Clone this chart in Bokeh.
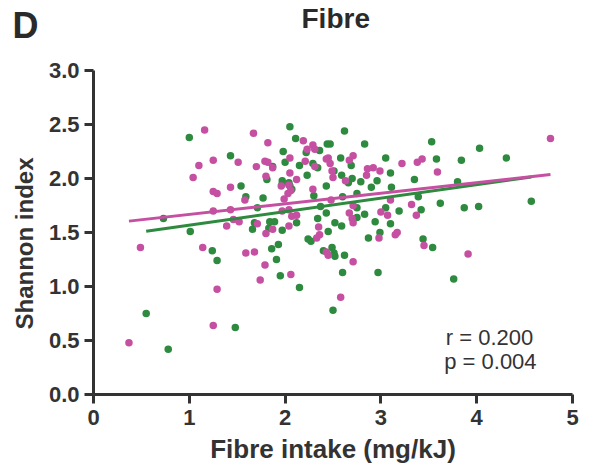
from bokeh.plotting import figure
from bokeh.models import Range1d, Label, FixedTicker, PrintfTickFormatter, Title
from bokeh.embed import file_html
from bokeh.resources import INLINE

# ---- data ----
green_x = [1.00, 2.05, 2.11, 1.98, 2.00, 1.43, 2.15, 1.87, 1.81, 1.97, 2.04, 1.54, 1.59, 1.77, 2.05,
           0.73, 1.01, 1.66, 1.68, 1.83, 1.84, 1.89, 1.97, 2.12, 1.71, 1.24, 1.29, 1.86, 1.93, 1.91,
           1.95, 2.15, 0.55, 0.78, 1.48, 2.50, 2.60, 2.97, 3.76, 2.40, 2.49, 2.51, 2.52, 2.62, 2.24,
           2.27, 2.45, 2.34, 2.43, 2.52, 2.59, 2.75, 2.75, 2.83, 2.94, 3.05, 3.19, 3.10, 2.99, 2.87,
           3.44, 3.54, 2.62, 2.83, 2.44, 2.47, 3.53, 4.03, 3.05, 3.58, 3.84, 4.31, 2.58, 2.36, 2.22,
           2.29, 2.34, 2.51, 2.69, 2.59, 2.23, 2.70, 2.79, 2.96, 3.10, 3.35, 3.80, 2.43, 2.66, 2.90,
           3.11, 2.30, 2.60, 2.75, 3.39, 3.62, 3.87, 4.02, 4.57, 3.42, 2.37, 2.07, 1.97]
green_y = [2.38, 2.48, 2.37, 2.25, 2.15, 2.21, 2.12, 2.11, 1.99, 1.98, 1.96, 1.93, 1.83, 1.82, 1.93,
           1.63, 1.51, 1.53, 1.59, 1.54, 1.60, 1.60, 1.52, 1.59, 1.73, 1.33, 1.24, 1.35, 1.39, 1.25,
           1.10, 0.99, 0.75, 0.42, 0.62, 0.78, 1.13, 1.13, 1.07, 1.33, 1.36, 1.31, 1.28, 1.29, 1.44,
           1.42, 1.51, 1.63, 1.68, 1.59, 1.56, 1.73, 1.64, 1.67, 1.60, 1.73, 1.70, 1.58, 1.50, 1.45,
           1.44, 1.36, 2.44, 2.32, 2.32, 2.32, 2.34, 2.28, 2.19, 2.18, 2.17, 2.19, 2.19, 2.26, 2.24,
           2.14, 2.10, 2.07, 2.12, 2.03, 2.03, 2.00, 1.97, 1.98, 2.05, 1.99, 1.97, 1.93, 1.96, 1.92,
           1.92, 1.84, 1.83, 1.86, 1.83, 1.77, 1.73, 1.74, 1.79, 1.71, 1.74, 1.90, 1.95]

magenta_x = [1.16, 1.67, 1.82, 1.25, 1.10, 1.51, 1.70, 1.79, 1.82, 1.87, 2.05, 1.04, 1.80, 2.05, 2.12,
             1.43, 1.25, 1.29, 1.58, 1.96, 2.04, 2.06, 2.03, 1.99, 1.25, 1.43, 1.97, 2.04, 1.39, 1.46,
             1.52, 1.71, 1.80, 1.87, 2.04, 2.07, 2.12, 0.49, 1.14, 1.59, 1.68, 1.79, 1.74, 2.06, 1.29,
             0.37, 1.25, 2.58, 2.71, 2.43, 2.45, 2.33, 2.36, 2.35, 2.67, 2.70, 2.71, 3.00, 3.07, 3.37,
             2.98, 3.17, 3.15, 3.45, 3.91, 4.77, 3.38, 3.43, 3.59, 3.22, 3.32, 3.10, 2.71, 2.19, 2.29,
             2.23, 2.31, 2.21, 2.31, 2.43, 2.45, 2.47, 2.67, 2.71, 2.49, 2.50, 2.86, 2.92, 2.85, 2.99,
             2.63, 2.29, 2.48]
magenta_y = [2.45, 2.42, 2.33, 2.17, 2.12, 2.15, 2.11, 2.16, 2.15, 2.10, 2.19, 2.01, 2.02, 2.05, 1.99,
             1.92, 1.88, 1.86, 1.80, 1.93, 1.94, 1.89, 1.86, 1.81, 1.70, 1.71, 1.70, 1.71, 1.56, 1.62,
             1.60, 1.58, 1.49, 1.53, 1.56, 1.65, 1.66, 1.36, 1.36, 1.31, 1.32, 1.20, 1.06, 1.11, 0.975,
             0.48, 0.64, 0.90, 1.23, 1.32, 1.29, 1.45, 1.48, 1.55, 1.68, 1.63, 1.59, 1.69, 1.66, 1.66,
             1.45, 1.50, 1.48, 1.38, 1.30, 2.37, 2.15, 2.18, 2.06, 2.14, 1.76, 1.80, 1.75, 2.35, 2.31,
             2.27, 2.27, 2.16, 2.11, 2.18, 2.19, 2.14, 2.17, 2.21, 2.07, 2.01, 2.09, 2.10, 2.03, 2.07,
             1.98, 1.90, 1.80]

# fitted lines: (intercept, slope)
green_fit = (1.443, 0.125)
magenta_fit = (1.569, 0.098)

x_ticks = [0, 1, 2, 3, 4, 5]
y_ticks = [0.0, 0.5, 1.0, 1.5, 2.0, 2.5, 3.0]

title_text = "Fibre"
panel_letter = "D"
x_label = "Fibre intake (mg/kJ)"
y_label = "Shannon index"
stats_lines = ["r = 0.200", "p = 0.004"]

GREEN = "#2E8A3E"
MAGENTA = "#C54FA1"
DARK = "#333333"
FONT = "Liberation Sans"

p = figure(width=593, height=471, output_backend="svg", toolbar_location=None,
           x_range=Range1d(0, 5), y_range=Range1d(0, 3),
           min_border_left=93, min_border_right=21, min_border_top=70, min_border_bottom=77)
p.background_fill_color = "white"
p.border_fill_color = "white"
p.outline_line_color = None
p.xgrid.visible = False
p.ygrid.visible = False

# spacer panel nearest the frame (blank), so that the titles stacked above sit high
p.add_layout(Title(text=" ", text_font=FONT, text_font_size="10px", standoff=40,
                   text_color="white"), "above")

# chart title, zero-height panel above the spacer
p.add_layout(Title(text=title_text, align="left", offset=208, standoff=-33,
                   text_font=FONT, text_font_style="bold", text_font_size="28px",
                   text_color="#2a2a2a"), "above")

# panel letter: outermost title
p.title.text = panel_letter
p.title.align = "left"
p.title.offset = -81
p.title.standoff = -57
p.title.text_font = FONT
p.title.text_font_style = "bold"
p.title.text_font_size = "36px"
p.title.text_color = "#2a2a2a"

for ax in (p.xaxis[0], p.yaxis[0]):
    ax.axis_line_width = 3
    ax.axis_line_color = DARK
    ax.major_tick_line_width = 3
    ax.major_tick_line_color = DARK
    ax.major_tick_out = 9
    ax.major_tick_in = 0
    ax.minor_tick_out = 0
    ax.minor_tick_in = 0
    ax.major_label_text_font = FONT
    ax.major_label_text_font_style = "bold"
    ax.major_label_text_font_size = "22px"
    ax.major_label_text_color = DARK
    ax.axis_label_text_font = FONT
    ax.axis_label_text_font_style = "bold"
    ax.axis_label_text_color = DARK

p.xaxis.ticker = FixedTicker(ticks=x_ticks)
p.yaxis.ticker = FixedTicker(ticks=y_ticks)
p.yaxis.formatter = PrintfTickFormatter(format="%.1f")
p.xaxis.major_label_standoff = 6
p.yaxis.major_label_standoff = 5
p.xaxis.axis_label = x_label
p.xaxis.axis_label_text_font_size = "26px"
p.xaxis.axis_label_standoff = 6

# y axis title as a left-side Title, starting 65 px above the frame bottom
p.add_layout(Title(text=y_label, align="left", offset=65, standoff=15,
                   text_font=FONT, text_font_style="bold", text_font_size="24px",
                   text_color=DARK), "left")

# regression lines spanning each group's x range
gx = [min(green_x), max(green_x)]
mx = [min(magenta_x), max(magenta_x)]

p.scatter(green_x, green_y, size=7.5, fill_color=GREEN, line_color=None)
p.scatter(magenta_x, magenta_y, size=7.5, fill_color=MAGENTA, line_color=None)
p.line(gx, [green_fit[0] + green_fit[1] * v for v in gx], line_color=GREEN, line_width=3)
p.line(mx, [magenta_fit[0] + magenta_fit[1] * v for v in mx], line_color=MAGENTA, line_width=3)

p.add_layout(Label(x=3.678, y=0.525, text=stats_lines[0], text_font=FONT,
                   text_font_size="22px", text_color=DARK, text_baseline="alphabetic"))
p.add_layout(Label(x=3.661, y=0.308, text=stats_lines[1], text_font=FONT,
                   text_font_size="22px", text_color=DARK, text_baseline="alphabetic"))

open("out.html", "w").write(file_html(p, INLINE))
